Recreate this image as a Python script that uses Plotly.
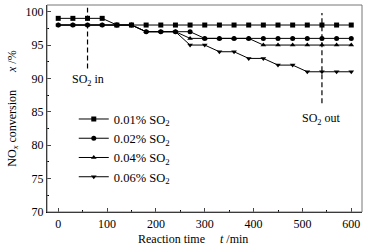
import plotly.graph_objects as go

time_min = [0, 30, 60, 90, 120, 150, 180, 210, 240, 270, 300, 330, 360, 390, 420, 450, 480, 510, 540, 570, 600]
so2_001 = [99, 99, 99, 99, 98, 98, 98, 98, 98, 98, 98, 98, 98, 98, 98, 98, 98, 98, 98, 98, 98]
so2_002 = [98, 98, 98, 98, 98, 98, 97, 97, 97, 97, 96, 96, 96, 96, 96, 96, 96, 96, 96, 96, 96]
so2_004 = [98, 98, 98, 98, 98, 98, 97, 97, 97, 96, 96, 96, 96, 96, 95, 95, 95, 95, 95, 95, 95]
so2_006 = [98, 98, 98, 98, 98, 98, 97, 97, 97, 95, 95, 94, 94, 93, 93, 92, 92, 91, 91, 91, 91]
series_names = ["0.01% SO<sub>2</sub>", "0.02% SO<sub>2</sub>", "0.04% SO<sub>2</sub>", "0.06% SO<sub>2</sub>"]
symbols = ["square", "circle", "triangle-up", "triangle-down"]
so2_in_time = 60
so2_out_time = 540

FONT = "Liberation Serif, Times New Roman, serif"

fig = go.Figure()
for name, vals, sym in zip(series_names, [so2_001, so2_002, so2_004, so2_006], symbols):
    fig.add_trace(go.Scatter(
        x=time_min, y=vals, name=name, mode="lines+markers",
        line=dict(color="black", width=1),
        marker=dict(symbol=sym, size=5, color="black"),
    ))

# SO2 in / out markers
fig.add_shape(type="line", x0=so2_in_time, x1=so2_in_time, y0=91.5, y1=100.6,
              line=dict(color="black", width=1.2, dash="5px,3px"))
fig.add_shape(type="line", x0=so2_out_time, x1=so2_out_time, y0=86.3, y1=99.8,
              line=dict(color="black", width=1.2, dash="5px,3px"))
fig.add_annotation(x=so2_in_time, y=89.7, text="SO<sub>2</sub> in", showarrow=False,
                   font=dict(family=FONT, size=12, color="black"))
fig.add_annotation(x=so2_out_time, y=84.0, text="SO<sub>2</sub> out", showarrow=False,
                   font=dict(family=FONT, size=12, color="black"))

# x axis title (slightly left of centre, as in the reference)
fig.add_annotation(xref="paper", yref="paper", x=0.463, y=-0.132,
                   xanchor="center", yanchor="middle", showarrow=False,
                   text="Reaction time     <i>t</i> /min",
                   font=dict(family=FONT, size=12, color="black"))

# frame
fig.add_shape(type="rect", xref="paper", yref="paper", x0=0, x1=1, y0=0, y1=1,
              line=dict(color="#777", width=1), layer="above")

fig.update_layout(
    width=370, height=246,
    margin=dict(l=47, r=8, t=5, b=34),
    paper_bgcolor="white", plot_bgcolor="white",
    font=dict(family=FONT, size=12, color="black"),
    showlegend=True,
    legend=dict(x=0.085, y=0.52, xanchor="left", yanchor="top",
                bgcolor="rgba(0,0,0,0)", font=dict(family=FONT, size=12.5),
                tracegroupgap=0, itemwidth=30),
)
fig.update_xaxes(
    range=[-23, 622], dtick=100, tick0=0, ticks="inside", ticklen=4,
    showgrid=False, zeroline=False, showline=True, linecolor="black", linewidth=1,
    minor=dict(dtick=50, ticks="inside", ticklen=2, tickcolor="black"),
    tickfont=dict(size=12), ticklabelstandoff=1,
)
fig.update_yaxes(
    range=[70, 101], dtick=5, tick0=70, ticks="inside", ticklen=4,
    showgrid=False, zeroline=False, showline=True, linecolor="black", linewidth=1,
    minor=dict(dtick=2.5, ticks="inside", ticklen=2, tickcolor="black"),
    title=dict(text="NO<sub><i>x</i></sub> conversion      <i>x</i> /%", font=dict(size=12), standoff=6),
    tickfont=dict(size=12),
)

fig.write_html("out.html", config={"displayModeBar": False},
               post_script="document.body.style.margin='0';")
